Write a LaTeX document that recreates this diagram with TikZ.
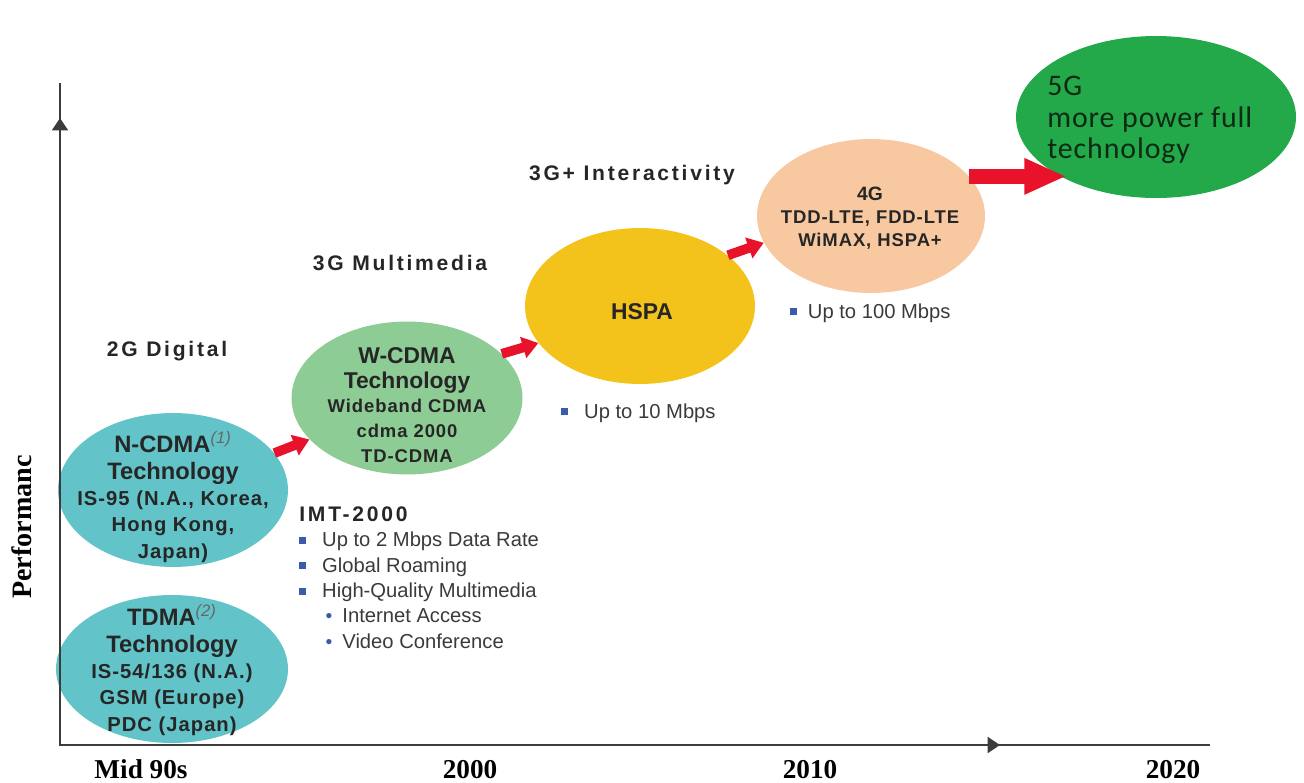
\documentclass[tikz,border=0pt]{standalone}
\usepackage{fontspec}
\usepackage{xcolor}
\usepackage{graphicx}
\usetikzlibrary{shapes.geometric,arrows.meta,calc}
\setmainfont{Liberation Sans}
\newfontfamily\spacedfont[LetterSpace=13]{Liberation Sans}
\newfontfamily\blobfont[LetterSpace=5]{Liberation Sans}
\newfontfamily\axisfont{Liberation Serif}
\newfontfamily\calfont[LetterSpace=3]{Carlito}
\definecolor{ncdmablue}{HTML}{62C4C8}
\definecolor{wcdmagreen}{HTML}{8ECC95}
\definecolor{hspayellow}{HTML}{F3C31C}
\definecolor{lteorange}{HTML}{F8C8A0}
\definecolor{fivegreen}{HTML}{23A84A}
\definecolor{arrowred}{HTML}{E8132B}
\definecolor{bulletblue}{HTML}{3A5BA8}
\definecolor{textdark}{HTML}{262626}
\definecolor{listgray}{HTML}{3A3A3A}
\definecolor{darkfiveg}{HTML}{0F2A14}
\definecolor{axisgray}{HTML}{3C3C3C}
\newcommand{\sqbul}{\textcolor{bulletblue}{\rule[1.6pt]{4pt}{4pt}}}
\newcommand{\dotbul}{\textcolor{bulletblue}{\fontsize{11}{11}\selectfont\textbullet}}
\newcommand{\blobtitle}[1]{{\normalfont\bfseries\fontsize{13.5}{15}\selectfont #1}}

\begin{document}
\begin{tikzpicture}[x=0.02cm,y=-0.02cm,
  techblob/.style={ellipse,inner sep=0pt},
  blobtext/.style={align=center,inner sep=0pt,text=textdark,font=\blobfont\bfseries\fontsize{11.5}{15}\selectfont},
  eralabel/.style={inner sep=0pt,text=textdark,font=\spacedfont\bfseries\fontsize{12}{14}\selectfont},
  listtext/.style={align=left,inner sep=0pt,text=listgray,font=\fontsize{11.5}{14.5}\selectfont},
  yearlabel/.style={anchor=base,inner sep=0pt,font=\axisfont\bfseries\fontsize{15.5}{16}\selectfont},
  axisline/.style={draw=axisgray,line width=1.3pt},
  bigarrow/.style={draw=arrowred,line width=5.5pt,-{Triangle[width=12pt,length=9pt]}}]
\useasboundingbox (0,0) rectangle (1304,782);

% the generations
\node[techblob,fill=ncdmablue,minimum width=4.6cm,minimum height=3.08cm] (ncdma) at (173,490) {};
\node[techblob,fill=ncdmablue,minimum width=4.64cm,minimum height=2.96cm] (tdma) at (172,669) {};
\node[techblob,fill=wcdmagreen,minimum width=4.62cm,minimum height=3.06cm] (wcdma) at (407,398) {};
\node[techblob,fill=hspayellow,minimum width=4.6cm,minimum height=3.12cm] (hspa) at (640,306) {};
\node[techblob,fill=lteorange,minimum width=4.56cm,minimum height=3.08cm] (fourg) at (871,216) {};
\node[techblob,fill=fivegreen,minimum width=5.6cm,minimum height=3.24cm] (fiveg) at (1156,117) {};

\draw[bigarrow] (ncdma.20) -- (wcdma.203);
\draw[bigarrow] (wcdma.25) -- (hspa.200);
\draw[bigarrow] (hspa.30) -- (fourg.194);
\draw[bigarrow,line width=8.5pt,-{Triangle[width=19pt,length=24pt]}] (fourg.22) -- (fourg.22 -| fiveg.215);

\node[blobtext] (ncdmatext) at (173,497) {\blobtitle{N-CDMA\textsuperscript{\mdseries\itshape\color{textdark!70}(1)}}\\\blobtitle{Technology}\\IS-95 (N.A., Korea,\\Hong Kong,\\Japan)};
\node[blobtext] (tdmatext) at (172,670) {\blobtitle{TDMA\textsuperscript{\mdseries\itshape\color{textdark!70}(2)}}\\\blobtitle{Technology}\\IS-54/136 (N.A.)\\GSM (Europe)\\PDC (Japan)};
\node[blobtext,font=\blobfont\bfseries\fontsize{10.5}{14}\selectfont] (wcdmatext) at (407,405) {{\normalfont\bfseries\fontsize{13}{14}\selectfont W-CDMA}\\{\normalfont\bfseries\fontsize{13}{14}\selectfont Technology}\\Wideband CDMA\\cdma 2000\\TD-CDMA};
\node[blobtext,font=\bfseries\fontsize{13}{15}\selectfont] (hspatext) at (642,312) {HSPA};
\node[blobtext,font=\blobfont\bfseries\fontsize{10.5}{13}\selectfont] (fourgtext) at (870,218) {{\normalfont\bfseries\fontsize{11}{13}\selectfont 4G}\\TDD-LTE, FDD-LTE\\WiMAX, HSPA+};
\node[anchor=west,align=left,inner sep=0pt,text=darkfiveg,font=\calfont\fontsize{17}{18}\selectfont] (fivegtext) at (1047,120) {5G\\more power full\\technology};

% eras and notes
\node[eralabel] (era2g) at (167,351) {2G Digital};
\node[eralabel] (era3g) at (400,263) {3G Multimedia};
\node[eralabel] (era3gplus) at (632,175) {3G+ Interactivity};

\node[listtext,anchor=north west] (imt) at (299,506) {{\spacedfont\bfseries\color{textdark}\fontsize{12}{14.5}\selectfont IMT-2000}\\
  \makebox[13pt][l]{\sqbul}Up to 2 Mbps Data Rate\\
  \makebox[13pt][l]{\sqbul}Global Roaming\\
  \makebox[13pt][l]{\sqbul}High-Quality Multimedia\\
  \hspace{15pt}\makebox[9.5pt][l]{\dotbul}Internet Access\\
  \hspace{15pt}\makebox[9.5pt][l]{\dotbul}Video Conference};
\node[listtext,anchor=west] (hspanote) at (561,413) {\makebox[13pt][l]{\sqbul}Up to 10 Mbps};
\node[listtext,anchor=west] (ltenote) at (790,313) {\makebox[10pt][l]{\sqbul}Up to 100 Mbps};

% axes
\coordinate (origin) at (60,745);
\coordinate (ytip) at (60,118);
\coordinate (ytop) at (60,83);
\coordinate (xtip) at (1000,745);
\coordinate (xend) at (1210,745);
\draw[axisline] (ytop) -- (origin) -- (xend);
\draw[axisline,-{Triangle[width=9pt,length=7pt]}] (origin) -- (ytip);
\draw[axisline,-{Triangle[width=9pt,length=7pt]}] (origin) -- (xtip);

\node[yearlabel] (mid90) at (141,778) {Mid 90s};
\node[yearlabel] (y2000) at (470,778) {2000};
\node[yearlabel] (y2010) at (810,778) {2010};
\node[yearlabel] (y2020) at (1173,778) {2020};
\node[rotate=90,inner sep=0pt,font=\axisfont\bfseries\fontsize{16}{16}\selectfont] (perf) at (22,527) {Performanc};
\end{tikzpicture}
\end{document}
